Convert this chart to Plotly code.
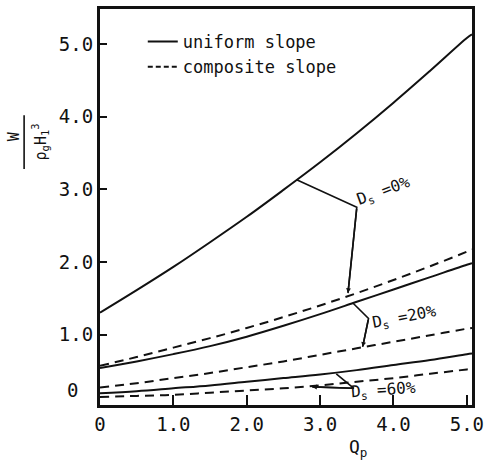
import plotly.graph_objects as go

# ---- data ----
q_p = [0, 0.5, 1.0, 1.5, 2.0, 2.5, 3.0, 3.5, 4.0, 4.5, 5.0, 5.07]

d0_uniform = [1.30, 1.61, 1.93, 2.27, 2.62, 2.99, 3.37, 3.77, 4.19, 4.63, 5.08, 5.13]
d0_composite = [0.57, 0.69, 0.82, 0.95, 1.09, 1.24, 1.40, 1.57, 1.75, 1.94, 2.14, 2.17]
d20_uniform = [0.54, 0.63, 0.73, 0.84, 0.97, 1.12, 1.28, 1.45, 1.62, 1.79, 1.96, 1.98]
d20_composite = [0.27, 0.33, 0.40, 0.47, 0.55, 0.63, 0.72, 0.81, 0.90, 0.99, 1.08, 1.09]
d60_uniform = [0.19, 0.22, 0.26, 0.30, 0.35, 0.40, 0.45, 0.51, 0.58, 0.65, 0.73, 0.74]
d60_composite = [0.14, 0.155, 0.17, 0.20, 0.23, 0.26, 0.30, 0.35, 0.40, 0.46, 0.52, 0.53]

x_ticks = [0, 1, 2, 3, 4, 5]
x_tick_text = ["0", "1.0", "2.0", "3.0", "4.0", "5.0"]
y_ticks = [1, 2, 3, 4, 5]
y_tick_text = ["1.0", "2.0", "3.0", "4.0", "5.0"]

# leader lines for the labels (x, y in data units)
lead_d0_x = [2.68, 3.50, 3.38]
lead_d0_y = [3.13, 2.75, 1.57]
lead_d20_x = [3.45, 3.66, 3.58]
lead_d20_y = [1.43, 1.22, 0.83]
lead_d60_x = [3.22, 3.46, 2.89]
lead_d60_y = [0.46, 0.26, 0.28]

labels = [
    ("D<sub>s</sub> =0%", 3.86, 2.97, -20),
    ("D<sub>s</sub> =20%", 4.15, 1.23, -11),
    ("D<sub>s</sub> =60%", 3.86, 0.23, -4),
]

MONO = "DejaVu Sans Mono"
BLACK = "#111111"

fig = go.Figure()

solid = dict(color=BLACK, width=2, shape="spline")
dashed = dict(color=BLACK, width=2, dash="9px,6px", shape="spline")

fig.add_trace(go.Scatter(x=q_p, y=d0_uniform, mode="lines", line=solid,
                         name="uniform slope"))
fig.add_trace(go.Scatter(x=q_p, y=d0_composite, mode="lines", line=dashed,
                         showlegend=False))
fig.add_trace(go.Scatter(x=q_p, y=d20_uniform, mode="lines", line=solid,
                         showlegend=False))
fig.add_trace(go.Scatter(x=q_p, y=d20_composite, mode="lines", line=dashed,
                         showlegend=False))
fig.add_trace(go.Scatter(x=q_p, y=d60_uniform, mode="lines", line=solid,
                         showlegend=False))
fig.add_trace(go.Scatter(x=q_p, y=d60_composite, mode="lines", line=dashed,
                         showlegend=False))
# legend entry for the composite slope (short dashes as in the key)
fig.add_trace(go.Scatter(x=[None], y=[None], mode="lines",
                         line=dict(color=BLACK, width=2, dash="5px,3px"),
                         name="composite slope"))

for lx, ly in [(lead_d0_x, lead_d0_y), (lead_d20_x, lead_d20_y), (lead_d60_x, lead_d60_y)]:
    fig.add_trace(go.Scatter(x=lx, y=ly, mode="lines",
                             line=dict(color=BLACK, width=1.6),
                             showlegend=False, hoverinfo="skip"))
    fig.add_annotation(x=lx[-1], y=ly[-1], ax=lx[-2], ay=ly[-2],
                       xref="x", yref="y", axref="x", ayref="y",
                       text="", showarrow=True, arrowhead=2, arrowsize=0.6,
                       arrowwidth=1.6, arrowcolor=BLACK)

for txt, tx, ty, ang in labels:
    fig.add_annotation(x=tx, y=ty, xref="x", yref="y", text=txt, showarrow=False,
                       textangle=ang, xanchor="center", yanchor="middle",
                       font=dict(family=MONO, size=16, color=BLACK))

# y-axis title as a fraction W / (rho_g H_1^3)
fig.add_annotation(x=-0.232, y=0.678, xref="paper", yref="paper", text="W",
                   showarrow=False, textangle=-90, xanchor="center", yanchor="middle",
                   font=dict(family=MONO, size=15, color=BLACK))
fig.add_annotation(x=-0.163, y=0.664, xref="paper", yref="paper",
                   text="ρ<sub>g</sub>H<sub>1</sub><sup>3</sup>",
                   showarrow=False, textangle=-90, xanchor="center", yanchor="middle",
                   font=dict(family=MONO, size=15, color=BLACK))
fig.add_shape(type="line", xref="paper", yref="paper",
              x0=-0.204, x1=-0.204, y0=0.596, y1=0.732,
              line=dict(color=BLACK, width=1.6))

# x-axis title
fig.add_annotation(x=0.693, y=-0.108, xref="paper", yref="paper",
                   text="Q<sub>p</sub>", showarrow=False,
                   xanchor="center", yanchor="middle",
                   font=dict(family=MONO, size=18, color=BLACK))
# y zero label (placed above the corner as in the reference)
fig.add_annotation(x=-0.074, y=0.038, xref="paper", yref="paper",
                   text="0", showarrow=False, xanchor="center", yanchor="middle",
                   font=dict(family=MONO, size=19, color=BLACK))

fig.update_layout(
    width=490, height=460,
    margin=dict(l=100, r=12, t=6, b=55),
    paper_bgcolor="white", plot_bgcolor="white",
    font=dict(family=MONO, size=19, color=BLACK),
    showlegend=True,
    legend=dict(x=0.115, y=0.962, xanchor="left", yanchor="top",
                bgcolor="rgba(0,0,0,0)", font=dict(family=MONO, size=17, color=BLACK),
                tracegroupgap=0),
    xaxis=dict(range=[0, 5.07], tickvals=x_ticks, ticktext=x_tick_text,
               ticks="inside", ticklen=10, tickwidth=1.6, tickcolor=BLACK,
               showline=True, linecolor=BLACK, linewidth=3, mirror=True,
               showgrid=False, zeroline=False,
               tickfont=dict(family=MONO, size=19, color=BLACK)),
    yaxis=dict(range=[0.03, 5.48], tickvals=y_ticks, ticktext=y_tick_text,
               ticks="inside", ticklen=7, tickwidth=1.6, tickcolor=BLACK,
               showline=True, linecolor=BLACK, linewidth=3, mirror=True,
               showgrid=False, zeroline=False,
               tickfont=dict(family=MONO, size=19, color=BLACK)),
)

fig.write_html("out.html")
